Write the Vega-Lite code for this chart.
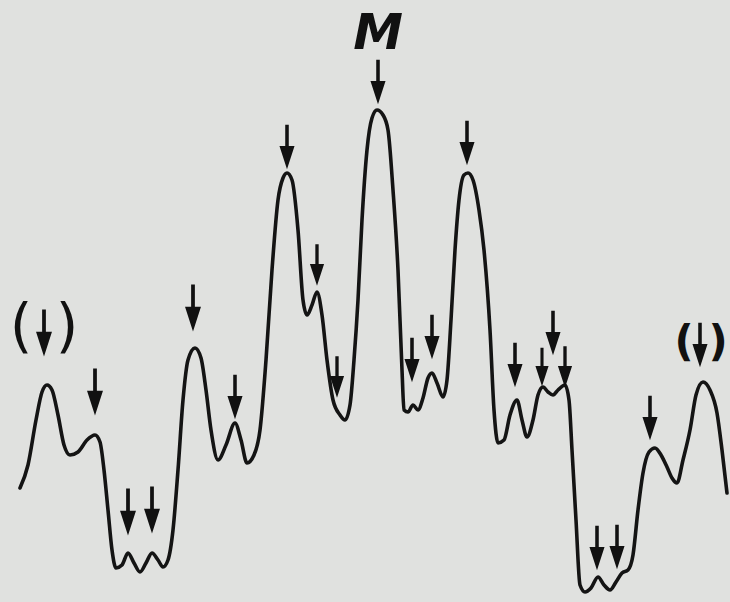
{
  "$schema": "https://vega.github.io/schema/vega-lite/v6.json",
  "width": 730,
  "height": 602,
  "padding": 0,
  "autosize": {"type": "none"},
  "background": "#e0e1df",
  "config": {"view": {"stroke": null}},
  "datasets": {
    "curve": [
      {"x":20,"y":488},{"x":28,"y":465},{"x":36,"y":420},{"x":42,"y":392},{"x":47,"y":385},{"x":52,"y":390},{"x":58,"y":415},{"x":64,"y":445},{"x":70,"y":455},{"x":78,"y":452},{"x":87,"y":440},{"x":95,"y":435},{"x":100,"y":442},{"x":104,"y":470},{"x":108,"y":510},{"x":112,"y":550},{"x":116,"y":568},{"x":122,"y":565},{"x":128,"y":553},{"x":134,"y":563},{"x":140,"y":572},{"x":146,"y":563},{"x":152,"y":553},{"x":158,"y":560},{"x":163,"y":567},{"x":168,"y":560},{"x":173,"y":530},{"x":178,"y":470},{"x":183,"y":400},{"x":188,"y":360},{"x":195,"y":348},{"x":201,"y":358},{"x":206,"y":390},{"x":211,"y":430},{"x":218,"y":460},{"x":226,"y":445},{"x":235,"y":423},{"x":241,"y":440},{"x":247,"y":463},{"x":254,"y":455},{"x":260,"y":430},{"x":266,"y":360},{"x":272,"y":270},{"x":278,"y":200},{"x":283,"y":178},{"x":287,"y":173},{"x":292,"y":180},{"x":298,"y":230},{"x":303,"y":300},{"x":307,"y":315},{"x":312,"y":305},{"x":317,"y":292},{"x":322,"y":315},{"x":327,"y":360},{"x":333,"y":400},{"x":340,"y":415},{"x":345,"y":420},{"x":350,"y":405},{"x":354,"y":360},{"x":358,"y":300},{"x":362,"y":220},{"x":367,"y":150},{"x":372,"y":118},{"x":377,"y":110},{"x":383,"y":115},{"x":388,"y":130},{"x":393,"y":190},{"x":398,"y":270},{"x":402,"y":370},{"x":404,"y":410},{"x":408,"y":412},{"x":413,"y":405},{"x":418,"y":410},{"x":423,"y":398},{"x":428,"y":378},{"x":432,"y":373},{"x":437,"y":383},{"x":443,"y":397},{"x":447,"y":380},{"x":451,"y":320},{"x":455,"y":250},{"x":459,"y":200},{"x":464,"y":175},{"x":468,"y":173},{"x":473,"y":180},{"x":479,"y":210},{"x":484,"y":250},{"x":490,"y":330},{"x":494,"y":410},{"x":498,"y":443},{"x":504,"y":440},{"x":510,"y":415},{"x":517,"y":400},{"x":522,"y":420},{"x":527,"y":437},{"x":533,"y":420},{"x":538,"y":395},{"x":543,"y":387},{"x":548,"y":392},{"x":553,"y":395},{"x":558,"y":390},{"x":565,"y":385},{"x":569,"y":400},{"x":572,"y":450},{"x":576,"y":520},{"x":580,"y":585},{"x":585,"y":592},{"x":591,"y":588},{"x":598,"y":577},{"x":604,"y":585},{"x":610,"y":590},{"x":616,"y":582},{"x":622,"y":573},{"x":628,"y":570},{"x":633,"y":555},{"x":638,"y":510},{"x":643,"y":473},{"x":649,"y":452},{"x":655,"y":448},{"x":661,"y":455},{"x":667,"y":467},{"x":672,"y":478},{"x":677,"y":483},{"x":683,"y":460},{"x":690,"y":430},{"x":696,"y":395},{"x":703,"y":382},{"x":710,"y":390},{"x":717,"y":413},{"x":722,"y":450},{"x":727,"y":493}
    ],
    "arrows": [
      {"x":44,"y":333,"kind":"L"},{"x":95,"y":392,"kind":"L"},{"x":128,"y":512,"kind":"L"},{"x":152,"y":510,"kind":"L"},{"x":193,"y":308,"kind":"L"},{"x":235,"y":397,"kind":"M"},{"x":287,"y":147,"kind":"M"},{"x":317,"y":265,"kind":"S"},{"x":337,"y":377,"kind":"S"},{"x":378,"y":82,"kind":"M"},{"x":412,"y":360,"kind":"M"},{"x":432,"y":337,"kind":"M"},{"x":467,"y":143,"kind":"M"},{"x":515,"y":365,"kind":"M"},{"x":542,"y":367,"kind":"XS"},{"x":553,"y":333,"kind":"M"},{"x":565,"y":367,"kind":"S"},{"x":597,"y":548,"kind":"M"},{"x":617,"y":547,"kind":"M"},{"x":650,"y":418,"kind":"M"},{"x":700,"y":345,"kind":"M"}
    ],
    "parensLeft": [
      {"x":21,"y":329,"t":"("},{"x":67,"y":329,"t":")"}
    ],
    "parensRight": [
      {"x":684,"y":343,"t":"("},{"x":718,"y":343,"t":")"}
    ],
    "title": [{"x":378,"y":34,"t":"M"}]
  },
  "layer": [
    {
      "data": {"name": "curve"},
      "mark": {"type": "line", "interpolate": "monotone", "color": "#141414", "strokeWidth": 3.6, "strokeCap": "round", "strokeJoin": "round"},
      "encoding": {
        "x": {"field": "x", "type": "quantitative", "scale": {"domain": [0, 730], "nice": false, "zero": false}, "axis": null},
        "y": {"field": "y", "type": "quantitative", "scale": {"domain": [0, 602], "nice": false, "zero": false, "reverse": true}, "axis": null}
      }
    },
    {
      "data": {"name": "arrows"},
      "mark": {"type": "point", "filled": true, "color": "#111", "opacity": 1, "shape": "M-0.08,-1 L0.08,-1 L0.08,-0.05 L0.34,-0.05 L0,1 L-0.34,-0.05 L-0.08,-0.05 Z"},
      "encoding": {
        "x": {"field": "x", "type": "quantitative"},
        "y": {"field": "y", "type": "quantitative"},
        "size": {"field": "kind", "type": "nominal", "scale": {"domain": ["L", "M", "S", "XS"], "range": [2200, 1500, 900, 500]}, "legend": null}
      }
    },
    {
      "data": {"name": "parensLeft"},
      "mark": {"type": "text", "font": "DejaVu Sans", "fontWeight": "normal", "fontSize": 58, "color": "#111", "baseline": "middle", "align": "center"},
      "encoding": {
        "x": {"field": "x", "type": "quantitative"},
        "y": {"field": "y", "type": "quantitative"},
        "text": {"field": "t"}
      }
    },
    {
      "data": {"name": "parensRight"},
      "mark": {"type": "text", "font": "DejaVu Sans", "fontWeight": "bold", "fontSize": 42, "color": "#111", "baseline": "middle", "align": "center"},
      "encoding": {
        "x": {"field": "x", "type": "quantitative"},
        "y": {"field": "y", "type": "quantitative"},
        "text": {"field": "t"}
      }
    },
    {
      "data": {"name": "title"},
      "mark": {"type": "text", "font": "DejaVu Sans", "fontWeight": "bold", "fontStyle": "italic", "fontSize": 50, "color": "#111", "baseline": "middle", "align": "center"},
      "encoding": {
        "x": {"field": "x", "type": "quantitative"},
        "y": {"field": "y", "type": "quantitative"},
        "text": {"field": "t"}
      }
    }
  ]
}
